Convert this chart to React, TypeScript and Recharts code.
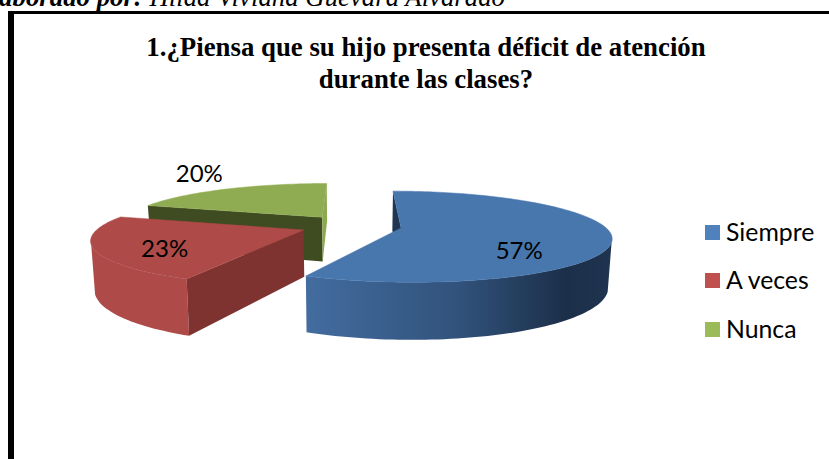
import React from "react";
import { PieChart, Pie, Legend } from "recharts";

const categories = ["Siempre", "A veces", "Nunca"];
const values = [57, 23, 20];
const legendColors = ["#4F81BD", "#C0504D", "#9BBB59"];
const titleLines = ["1.¿Piensa que su hijo presenta déficit de atención", "durante las clases?"];

// Draw order: back slice first, so the rotation starts at Nunca.
const drawOrder = [2, 0, 1];
const pieData = drawOrder.map((i) => ({ name: categories[i], value: values[i] }));

const W = 829;
const H = 459;
const CX = 351;
const CY = 225.6;
const R = 203;
const SQUASH = 43 / 203;
const PERSP = 0.19;
const DEPTH = 46;
const SHRINK = 0.985;
const EXPLODE = 0.25;

const topFill: Record<string, string> = { Siempre: "#4877AE", "A veces": "#AE4A47", Nunca: "#90AC53" };
const outerWall: Record<string, string> = { Siempre: "url(#blueWall)", "A veces": "#AE4A47", Nunca: "#6F8540" };
const startWall: Record<string, string> = { Siempre: "#1F3550", "A veces": "#7E3331", Nunca: "#3F4B21" };
const endWall: Record<string, string> = { Siempre: "#2E4D75", "A veces": "#7E3331", Nunca: "#8DA950" };
const labelRadius: Record<string, number> = { Siempre: 0.57, "A veces": 0.68, Nunca: 1.33 };
const labelNudge: Record<string, number> = { Siempre: 16, "A veces": 5, Nunca: -9 };

type P = [number, number];
const rad = (d: number) => (d * Math.PI) / 180;

function proj(cx: number, cy: number, r: number, X: number, Y: number, low: boolean): P {
  const w = 1 + PERSP * Y;
  const sx = cx + (r * X * (low ? SHRINK : 1)) / w;
  const sy = cy - (r * SQUASH * Y) / w + (low ? DEPTH / w : 0);
  return [sx, sy];
}
const toPath = (pts: P[]) =>
  "M" + pts.map((p) => `${p[0].toFixed(2)},${p[1].toFixed(2)}`).join("L") + "Z";

function Slice3D(props: any) {
  const { cx, cy, outerRadius, startAngle, endAngle } = props;
  const name: string = props.name ?? props.payload?.name;
  // clockwise degrees from 12 o'clock
  const a0 = 90 - startAngle;
  const a1 = 90 - endAngle;
  const mid = (a0 + a1) / 2;
  const ox = Math.sin(rad(mid)) * EXPLODE;
  const oy = Math.cos(rad(mid)) * EXPLODE;
  const rim = (deg: number, low: boolean) =>
    proj(cx, cy, outerRadius, ox + Math.sin(rad(deg)), oy + Math.cos(rad(deg)), low);
  const apex = (low: boolean) => proj(cx, cy, outerRadius, ox, oy, low);
  const norm = (a: number) => ((a % 360) + 360) % 360;
  const n0 = norm(a0);
  const n1 = n0 + (a1 - a0);

  const top: P[] = [apex(false)];
  for (let a = n0; a <= n1 + 0.001; a += 1.5) top.push(rim(a, false));
  top.push(rim(n1, false));

  // The rim wall shows only between the two silhouette angles of the squashed disc.
  const wallFrom = Math.max(n0, 108);
  const wallTo = Math.min(n1, 252);
  let outer: P[] | null = null;
  if (wallTo > wallFrom) {
    const upper: P[] = [];
    const lower: P[] = [];
    for (let a = wallFrom; a <= wallTo + 0.001; a += 1.5) {
      upper.push(rim(a, false));
      lower.unshift(rim(a, true));
    }
    upper.push(rim(wallTo, false));
    lower.unshift(rim(wallTo, true));
    outer = [...upper, ...lower];
  }
  const A = apex(false);
  const B0 = rim(n0, false);
  const B1 = rim(n1, false);
  return (
    <g>
      <defs>
        <linearGradient id="blueWall" gradientUnits="userSpaceOnUse" x1={306} y1={0} x2={612} y2={0}>
          <stop offset="0" stopColor="#436C9F" />
          <stop offset="0.5" stopColor="#31527B" />
          <stop offset="0.85" stopColor="#1C2F49" />
          <stop offset="1" stopColor="#1F3450" />
        </linearGradient>
      </defs>
      {outer && <path d={toPath(outer)} fill={outerWall[name]} />}
      {B0[0] < A[0] && (
        <path d={toPath([A, B0, rim(n0, true), apex(true)])} fill={startWall[name]} />
      )}
      {B1[0] > A[0] && (
        <path d={toPath([A, B1, rim(n1, true), apex(true)])} fill={endWall[name]} />
      )}
      <path d={toPath(top)} fill={topFill[name]} stroke={topFill[name]} strokeWidth={0.5} />
    </g>
  );
}

function renderLabel(props: any) {
  const { cx, cy, outerRadius, midAngle } = props;
  const name: string = props.name ?? props.payload?.name;
  const a = 90 - midAngle;
  const s = Math.sin(rad(a));
  const c = Math.cos(rad(a));
  const r = labelRadius[name];
  const [x, y] = proj(cx, cy, outerRadius, s * (EXPLODE + r), c * EXPLODE + c * r, false);
  return (
    <text
      x={x}
      y={y + labelNudge[name]}
      textAnchor="middle"
      dominantBaseline="central"
      fontFamily="Lato, sans-serif"
      fontSize={24}
      fill="#000"
    >
      {`${props.payload?.value ?? props.value}%`}
    </text>
  );
}

function LegendBox() {
  return (
    <div style={{ fontFamily: "Lato, sans-serif", fontSize: 24.8 }}>
      {categories.map((c, i) => (
        <div key={c} style={{ position: "absolute", left: 0, top: [0, 48, 97][i], height: 15, whiteSpace: "nowrap" }}>
          <span style={{ position: "absolute", left: 0, top: 0, width: 15, height: 15, background: legendColors[i] }} />
          <span style={{ position: "absolute", left: 21, top: -8, lineHeight: "29px", color: "#000" }}>{c}</span>
        </div>
      ))}
    </div>
  );
}

export default function App() {
  return (
    <div style={{ position: "fixed", left: 0, top: 0, width: W, height: H, overflow: "hidden", background: "#fff" }}>
      <div
        style={{
          position: "absolute",
          right: W - 505,
          top: -15,
          whiteSpace: "nowrap",
          fontFamily: "'Liberation Serif', serif",
          fontStyle: "italic",
          fontSize: 26.8,
          lineHeight: "24px",
          color: "#000",
        }}
      >
        <b>Elaborado por: </b>Hilda Viviana Guevara Alvarado
      </div>
      <div
        style={{
          position: "absolute",
          left: 8,
          top: 11,
          width: W,
          height: H,
          boxSizing: "border-box",
          borderLeft: "6px solid #000",
          borderTop: "3px solid #000",
          background: "#fff",
        }}
      />
      <div style={{ position: "absolute", left: 0, top: 0 }}>
        <PieChart width={W} height={H} margin={{ top: 0, right: 0, bottom: 0, left: 0 }}>
          <text
            x={426}
            textAnchor="middle"
            fontFamily="'Liberation Serif', serif"
            fontWeight="bold"
            fontSize={26.8}
            fill="#000"
          >
            <tspan x={426} y={56}>{titleLines[0]}</tspan>
            <tspan x={426} y={88}>{titleLines[1]}</tspan>
          </text>
          <Pie
            data={pieData}
            dataKey="value"
            nameKey="name"
            cx={CX}
            cy={CY}
            outerRadius={R}
            startAngle={162}
            endAngle={-198}
            stroke="none"
            isAnimationActive={false}
            shape={Slice3D}
            label={renderLabel}
            labelLine={false}
          />
          <Legend
            content={<LegendBox />}
            wrapperStyle={{ position: "absolute", left: 705, top: 225, width: 120, height: 120 }}
          />
        </PieChart>
      </div>
    </div>
  );
}
